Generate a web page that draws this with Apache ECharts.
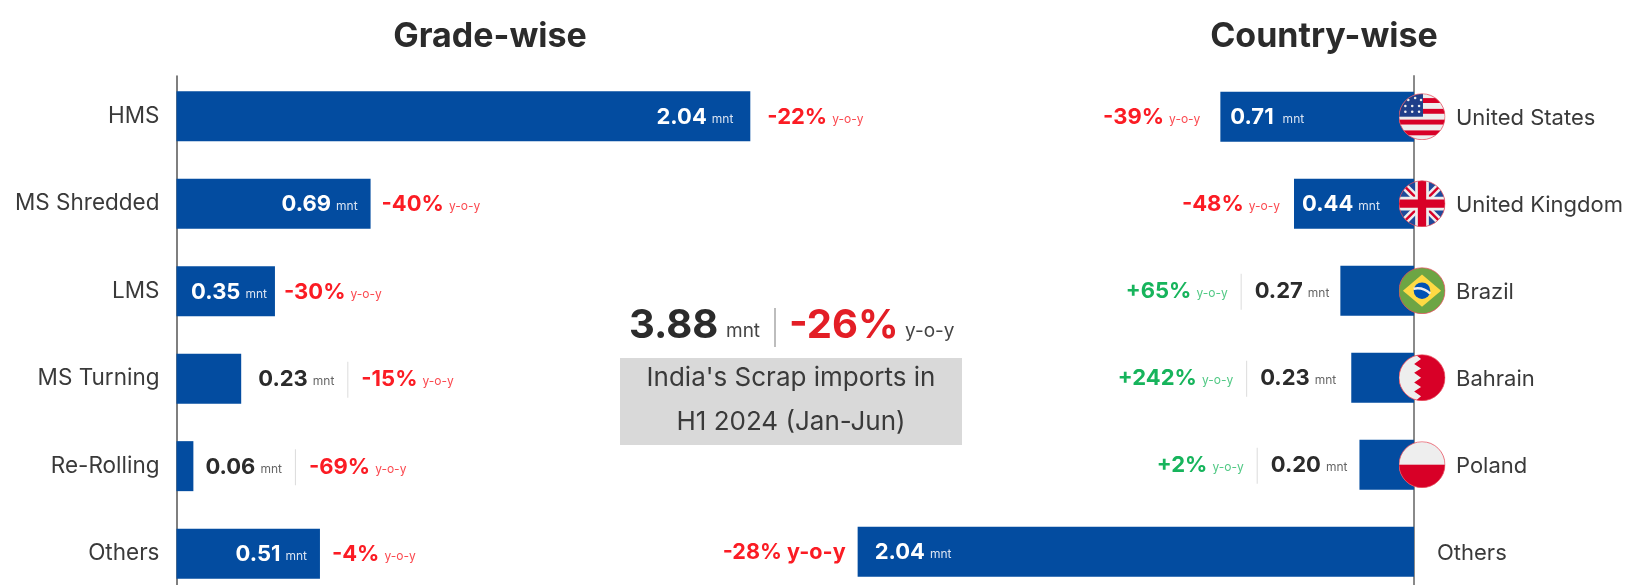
<!DOCTYPE html>
<html><head><meta charset="utf-8">
<style>html,body{margin:0;padding:0;background:#fff;width:1628px;height:585px;overflow:hidden}#c{width:1628px;height:660px}</style>
<script src="https://cdn.jsdelivr.net/npm/echarts@6/dist/echarts.min.js"></script></head>
<body><div id="c"></div>
<script>
const gradeCats=['HMS','MS Shredded','LMS','MS Turning','Re-Rolling','Others'];
const gradeVals=[2.04,0.69,0.35,0.23,0.06,0.51];
const gradeYoy=['-22%','-40%','-30%','-15%','-69%','-4%'];
const countryCats=['United States','United Kingdom','Brazil','Bahrain','Poland','Others'];
const countryVals=[0.71,0.44,0.27,0.23,0.20,2.04];
const countryYoy=['-39%','-48%','+65%','+242%','+2%','-28%'];
const gradeOutside=[false,false,false,true,true,false];
const countryOutside=[false,false,true,true,true,false];
const totalVal='3.88', totalYoy='-26%';

const FONT='Inter';
const BLUE='#034ca0', RED='#fb1c24', GREEN='#17b45c', DARK='#2b2b2b';
const svg=s=>'image://data:image/svg+xml;charset=utf-8,'+encodeURIComponent(
 '<svg xmlns="http://www.w3.org/2000/svg" width="96" height="96" viewBox="0 0 96 96"><defs><clipPath id="k"><circle cx="48" cy="48" r="47"/></clipPath></defs><g clip-path="url(#k)">'+s+'</g><circle cx="48" cy="48" r="47" fill="none" stroke="#e8505f" stroke-width="1.6"/></svg>');
const usStars=(()=>{let o='';[[20,14],[34,10],[46,14],[14,26],[28,26],[42,26],[14,38],[28,38],[42,38]].forEach(p=>{o+=`<circle cx="${p[0]}" cy="${p[1]}" r="2.6" fill="#eee"/>`});return o})();
const flags=[
 svg('<rect width="96" height="96" fill="#eee"/><g fill="#d80027"><rect y="10" x="48" width="48" height="10"/><rect y="32" x="48" width="48" height="10"/><rect y="54" width="96" height="10"/><rect y="76" width="96" height="10"/></g><rect width="50" height="48" fill="#1f3f8a"/>'+usStars),
 svg('<rect width="96" height="96" fill="#1f4a9a"/><path d="M0 0L96 96M96 0L0 96" stroke="#eee" stroke-width="15"/><path d="M0 0L96 96M96 0L0 96" stroke="#d80027" stroke-width="5"/><path d="M48 0V96M0 48H96" stroke="#eee" stroke-width="28"/><path d="M48 0V96M0 48H96" stroke="#d80027" stroke-width="17"/>'),
 svg('<rect width="96" height="96" fill="#6da544"/><path d="M48 15L87 48L48 81L9 48Z" fill="#ffda44"/><circle cx="48" cy="48" r="17" fill="#0052b4"/><path d="M31 44Q50 40 65 54" stroke="#eee" stroke-width="5" fill="none"/>'),
 svg('<rect width="96" height="96" fill="#d80027"/><path d="M0 0H34L46 10L32 20L46 29L32 38L46 48L32 58L46 67L32 76L46 86L34 96H0Z" fill="#eee"/>'),
 svg('<rect width="96" height="96" fill="#eee"/><rect y="48" width="96" height="48" fill="#d80027"/>')
];
const rich={
 vw:{color:'#fff',fontFamily:FONT,fontWeight:700,fontSize:22},
 uw:{color:'#dbe4f2',fontFamily:FONT,fontSize:12,padding:[4,0,0,5]},
 uwg:{color:'#dbe4f2',fontFamily:FONT,fontSize:12,padding:[4,0,0,9]},
 vd:{color:DARK,fontFamily:FONT,fontWeight:700,fontSize:22},
 ud:{color:'#666',fontFamily:FONT,fontSize:12,padding:[4,0,0,5]},
 pr:{color:RED,fontFamily:FONT,fontWeight:700,fontSize:22},
 yr:{color:'#fb4a50',fontFamily:FONT,fontSize:12,padding:[4,0,0,5]},
 pg:{color:GREEN,fontFamily:FONT,fontWeight:700,fontSize:22},
 yg:{color:'#52c985',fontFamily:FONT,fontSize:12,padding:[4,0,0,5]},
 big:{color:RED,fontFamily:FONT,fontWeight:700,fontSize:21.6},
 dl:{width:1,height:36,backgroundColor:'#dcdcdc'},
 sp:{width:13,height:1}
};
const val=(v,on,wide)=>`{${on?'vw':'vd'}|${v.toFixed(2)}}{${on?(wide?'uwg':'uw'):'ud'}|mnt}`;
const yoy=p=>p[0]==='+'?`{pg|${p}}{yg|y-o-y}`:`{pr|${p}}{yr|y-o-y}`;

const gInside=[17,13,8,0,0,13], gOut=[17,11,9,17,12,12];
const cOut=[20,14,11,15,12,12];
const lift=[0,1];

const gridTopL=72.4,gridHL=525,gridTopR=73.2,gridHR=522;
const grids=[
 {left:176.5,top:gridTopL,width:616,height:gridHL},
 {left:814,top:gridTopR,width:600,height:gridHR},
 {left:176.5,top:76,width:10,height:515},
 {left:1414,top:76,width:10,height:515}
];
const hidden=(i,extra)=>Object.assign({type:'value',gridIndex:i,show:false,min:0,max:2.2},extra||{});
const option={
 animation:false,backgroundColor:'#fff',
 title:[
  {text:'Grade-wise',left:485,top:15,textAlign:'center',textStyle:{fontFamily:FONT,fontSize:34,fontWeight:700,color:DARK}},
  {text:'Country-wise',left:1319,top:15,textAlign:'center',textStyle:{fontFamily:FONT,fontSize:34,fontWeight:700,color:DARK}}
 ],
 grid:grids,
 xAxis:[hidden(0,{max:2.19}),hidden(1,{inverse:true}),hidden(2,{max:1}),hidden(3,{max:1})],
 yAxis:[
  {type:'category',gridIndex:0,data:gradeCats,inverse:true,axisLine:{show:false},axisTick:{show:false},
   axisLabel:{margin:17,fontFamily:FONT,fontSize:22.5,color:'#3a3a3a',padding:[3,0,0,0]}},
  {type:'category',gridIndex:1,data:countryCats,inverse:true,position:'right',axisLine:{show:false},axisTick:{show:false},
   axisLabel:{margin:23,align:'left',fontFamily:FONT,fontSize:22,color:'#3a3a3a',
    formatter:v=>v==='Others'?'{o|'+v+'}':'{f|'+v+'}',
    rich:{o:{fontFamily:FONT,fontSize:22,color:'#3a3a3a',padding:[3,0,0,0]},f:{fontFamily:FONT,fontSize:22,color:'#3a3a3a',padding:[3,0,0,19]}}}},
  {type:'value',gridIndex:2,min:0,max:1,position:'left',axisLine:{show:true,onZero:false,lineStyle:{color:'#555',width:1.5}},axisTick:{show:false},axisLabel:{show:false},splitLine:{show:false}},
  {type:'value',gridIndex:3,min:0,max:1,position:'left',axisLine:{show:true,onZero:false,lineStyle:{color:'#8a8a8a',width:2}},axisTick:{show:false},axisLabel:{show:false},splitLine:{show:false}}
 ],
 series:[
  {type:'bar',name:'Grade',xAxisIndex:0,yAxisIndex:0,barWidth:50,barGap:'-100%',itemStyle:{color:BLUE},
   data:gradeVals.map((v,i)=>({value:v,label:gradeOutside[i]?{show:false}:{show:true,position:'insideRight',distance:gInside[i],offset:lift,rich,formatter:val(v,true)}}))},
  {type:'bar',name:'GradeNotes',xAxisIndex:0,yAxisIndex:0,barWidth:50,barGap:'-100%',itemStyle:{color:'transparent'},z:3,
   data:gradeVals.map((v,i)=>({value:v,label:{show:true,position:'right',distance:gOut[i],offset:lift,rich,
     formatter:gradeOutside[i]?val(v,false)+'{sp|}{dl|}{sp|}'+yoy(gradeYoy[i]):yoy(gradeYoy[i])}}))},
  {type:'bar',name:'Country',xAxisIndex:1,yAxisIndex:1,barWidth:50,barGap:'-100%',itemStyle:{color:BLUE},
   data:countryVals.map((v,i)=>({value:v,label:countryOutside[i]?{show:false}:{show:true,position:'insideLeft',distance:i===5?17:(i===0?10:8),offset:lift,rich,formatter:val(v,true,i===0)}}))},
  {type:'bar',name:'CountryNotes',xAxisIndex:1,yAxisIndex:1,barWidth:50,barGap:'-100%',itemStyle:{color:'transparent'},z:3,
   data:countryVals.map((v,i)=>({value:v,label:{show:true,position:'left',distance:cOut[i],offset:lift,rich,
     formatter:countryOutside[i]?yoy(countryYoy[i])+'{sp|}{dl|}{sp|}'+val(v,false):
       (i===5?`{big|${countryYoy[i]} y-o-y}`:yoy(countryYoy[i]))}}))},
  {type:'scatter',name:'Flags',xAxisIndex:1,yAxisIndex:1,clip:false,z:6,symbolSize:47,symbolOffset:[8,0],silent:true,itemStyle:{opacity:1},
   data:flags.map((f,i)=>({value:[0,countryCats[i]],symbol:f}))}
 ],
 graphic:[
  {type:'text',left:629,top:306,style:{text:totalVal,fontFamily:FONT,fontWeight:700,fontSize:40,fill:DARK}},
  {type:'text',left:726,top:322,style:{text:'mnt',fontFamily:FONT,fontSize:19,fill:'#444'}},
  {type:'rect',shape:{x:774,y:308,width:2,height:39},style:{fill:'#bdbdbd'}},
  {type:'text',left:789,top:306,style:{text:totalYoy,fontFamily:FONT,fontWeight:700,fontSize:40,fill:'#e31e26'}},
  {type:'text',left:905,top:322,style:{text:'y-o-y',fontFamily:FONT,fontSize:19,fill:'#444'}},
  {type:'rect',shape:{x:620,y:358,width:342,height:87},style:{fill:'#d9d9d9'}},
  {type:'text',x:791,y:378,style:{text:"India's Scrap imports in",align:'center',verticalAlign:'middle',fontFamily:FONT,fontSize:26,fill:'#3a3a3a'}},
  {type:'text',x:791,y:422,style:{text:'H1 2024 (Jan-Jun)',align:'center',verticalAlign:'middle',fontFamily:FONT,fontSize:26,fill:'#3a3a3a'}}
 ]
};
echarts.init(document.getElementById('c')).setOption(option);
</script></body></html>
